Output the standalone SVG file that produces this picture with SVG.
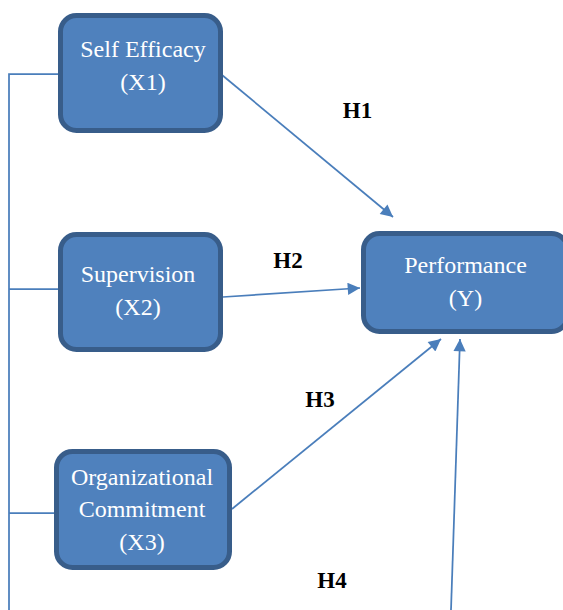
<svg xmlns="http://www.w3.org/2000/svg" width="563" height="610" viewBox="0 0 563 610">
<defs>
<style>
.box{fill:#4f81bd;stroke:#385d8a;stroke-width:5}
.nt{font-family:'Liberation Serif','Times New Roman',Times,serif;font-size:24px;fill:#ffffff;text-anchor:middle}
.lb{font-family:'Liberation Serif','Times New Roman',Times,serif;font-size:23px;font-weight:bold;fill:#000000;text-anchor:middle}
.ln{stroke:#4a7ebb;stroke-width:1.75;fill:none}
</style>
<marker id="ah" viewBox="0 0 10 10" refX="10" refY="5" markerWidth="9" markerHeight="7" markerUnits="strokeWidth" orient="auto">
<path d="M0,0 L10,5 L0,10 z" fill="#4a7ebb"/>
</marker>
</defs>
<rect width="563" height="610" fill="#ffffff"/>
<g id="connectors">
<path class="ln" d="M9,610 L9,74 L60,74"/>
<path class="ln" d="M9,289 L60,289"/>
<path class="ln" d="M9,513 L56,513"/>
<path class="ln" d="M222,75 L393,217" marker-end="url(#ah)"/>
<path class="ln" d="M223,297 L360,288" marker-end="url(#ah)"/>
<path class="ln" d="M232,509 L441,339" marker-end="url(#ah)"/>
<path class="ln" d="M451,610 L460,339" marker-end="url(#ah)"/>
</g>
<g id="labels">
<text class="lb" x="357.5" y="118">H1</text>
<text class="lb" x="288" y="268">H2</text>
<text class="lb" x="320" y="407">H3</text>
<text class="lb" x="332" y="588">H4</text>
</g>
<g id="x1">
<rect class="box" x="60.5" y="15.5" width="160" height="115" rx="16"/>
<text class="nt" x="143" y="57">Self Efficacy</text>
<text class="nt" x="143" y="90">(X1)</text>
</g>
<g id="x2">
<rect class="box" x="60.5" y="234.5" width="160" height="115" rx="16"/>
<text class="nt" x="138" y="282">Supervision</text>
<text class="nt" x="138" y="315">(X2)</text>
</g>
<g id="x3">
<rect class="box" x="56.5" y="451.5" width="173" height="116" rx="16"/>
<text class="nt" x="142" y="485">Organizational</text>
<text class="nt" x="142" y="517">Commitment</text>
<text class="nt" x="142" y="550">(X3)</text>
</g>
<g id="y">
<rect class="box" x="363.5" y="233.5" width="204" height="98" rx="16"/>
<text class="nt" x="465.5" y="273">Performance</text>
<text class="nt" x="465.5" y="306">(Y)</text>
</g>
</svg>
